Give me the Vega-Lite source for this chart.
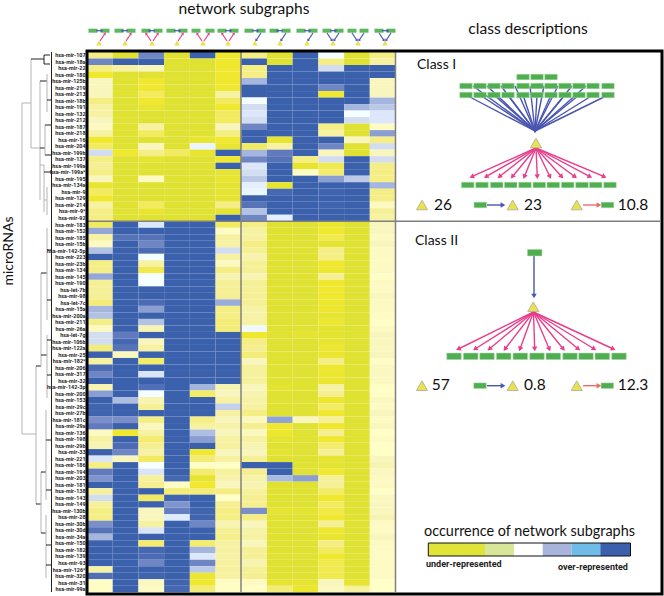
{"$schema":"https://vega.github.io/schema/vega-lite/v6.json","width":664,"height":596,"padding":0,"autosize":{"type":"none"},"background":"white","config":{"view":{"stroke":null}},
"datasets":{
"cells":[
{"mir":"hsa-mir-107","col":1,"v":-2},{"mir":"hsa-mir-107","col":2,"v":-4},{"mir":"hsa-mir-107","col":3,"v":3},{"mir":"hsa-mir-107","col":4,"v":-4},{"mir":"hsa-mir-107","col":5,"v":4},{"mir":"hsa-mir-107","col":6,"v":-3},{"mir":"hsa-mir-107","col":7,"v":-2},{"mir":"hsa-mir-107","col":8,"v":-4},{"mir":"hsa-mir-107","col":9,"v":4},{"mir":"hsa-mir-107","col":10,"v":0},{"mir":"hsa-mir-107","col":11,"v":-4},{"mir":"hsa-mir-107","col":12,"v":-2},
{"mir":"hsa-mir-18a","col":1,"v":3},{"mir":"hsa-mir-18a","col":2,"v":4},{"mir":"hsa-mir-18a","col":3,"v":4},{"mir":"hsa-mir-18a","col":4,"v":-4},{"mir":"hsa-mir-18a","col":5,"v":-4},{"mir":"hsa-mir-18a","col":6,"v":-3},{"mir":"hsa-mir-18a","col":7,"v":4},{"mir":"hsa-mir-18a","col":8,"v":-4},{"mir":"hsa-mir-18a","col":9,"v":4},{"mir":"hsa-mir-18a","col":10,"v":-2},{"mir":"hsa-mir-18a","col":11,"v":-4},{"mir":"hsa-mir-18a","col":12,"v":-1.5},
{"mir":"hsa-mir-22","col":1,"v":-2},{"mir":"hsa-mir-22","col":2,"v":-1.5},{"mir":"hsa-mir-22","col":3,"v":-1},{"mir":"hsa-mir-22","col":4,"v":-4},{"mir":"hsa-mir-22","col":5,"v":-4},{"mir":"hsa-mir-22","col":6,"v":-3},{"mir":"hsa-mir-22","col":7,"v":-2},{"mir":"hsa-mir-22","col":8,"v":4},{"mir":"hsa-mir-22","col":9,"v":4},{"mir":"hsa-mir-22","col":10,"v":1},{"mir":"hsa-mir-22","col":11,"v":4},{"mir":"hsa-mir-22","col":12,"v":4},
{"mir":"hsa-mir-180","col":1,"v":-3},{"mir":"hsa-mir-180","col":2,"v":-4},{"mir":"hsa-mir-180","col":3,"v":-4},{"mir":"hsa-mir-180","col":4,"v":-4},{"mir":"hsa-mir-180","col":5,"v":-4},{"mir":"hsa-mir-180","col":6,"v":-3},{"mir":"hsa-mir-180","col":7,"v":-2},{"mir":"hsa-mir-180","col":8,"v":4},{"mir":"hsa-mir-180","col":9,"v":4},{"mir":"hsa-mir-180","col":10,"v":4},{"mir":"hsa-mir-180","col":11,"v":4},{"mir":"hsa-mir-180","col":12,"v":4},
{"mir":"hsa-mir-125b","col":1,"v":-1},{"mir":"hsa-mir-125b","col":2,"v":-4},{"mir":"hsa-mir-125b","col":3,"v":-3},{"mir":"hsa-mir-125b","col":4,"v":-4},{"mir":"hsa-mir-125b","col":5,"v":-4},{"mir":"hsa-mir-125b","col":6,"v":-3},{"mir":"hsa-mir-125b","col":7,"v":2},{"mir":"hsa-mir-125b","col":8,"v":4},{"mir":"hsa-mir-125b","col":9,"v":4},{"mir":"hsa-mir-125b","col":10,"v":4},{"mir":"hsa-mir-125b","col":11,"v":4},{"mir":"hsa-mir-125b","col":12,"v":-1},
{"mir":"hsa-mir-219","col":1,"v":-1},{"mir":"hsa-mir-219","col":2,"v":-4},{"mir":"hsa-mir-219","col":3,"v":-3},{"mir":"hsa-mir-219","col":4,"v":-4},{"mir":"hsa-mir-219","col":5,"v":-4},{"mir":"hsa-mir-219","col":6,"v":-3},{"mir":"hsa-mir-219","col":7,"v":4},{"mir":"hsa-mir-219","col":8,"v":4},{"mir":"hsa-mir-219","col":9,"v":4},{"mir":"hsa-mir-219","col":10,"v":3},{"mir":"hsa-mir-219","col":11,"v":4},{"mir":"hsa-mir-219","col":12,"v":-1},
{"mir":"hsa-mir-213","col":1,"v":-1},{"mir":"hsa-mir-213","col":2,"v":-4},{"mir":"hsa-mir-213","col":3,"v":-2.5},{"mir":"hsa-mir-213","col":4,"v":-4},{"mir":"hsa-mir-213","col":5,"v":-4},{"mir":"hsa-mir-213","col":6,"v":-1.5},{"mir":"hsa-mir-213","col":7,"v":4},{"mir":"hsa-mir-213","col":8,"v":4},{"mir":"hsa-mir-213","col":9,"v":4},{"mir":"hsa-mir-213","col":10,"v":-3},{"mir":"hsa-mir-213","col":11,"v":4},{"mir":"hsa-mir-213","col":12,"v":-1},
{"mir":"hsa-mir-18b","col":1,"v":-2},{"mir":"hsa-mir-18b","col":2,"v":-4},{"mir":"hsa-mir-18b","col":3,"v":-3},{"mir":"hsa-mir-18b","col":4,"v":-4},{"mir":"hsa-mir-18b","col":5,"v":-4},{"mir":"hsa-mir-18b","col":6,"v":-2.5},{"mir":"hsa-mir-18b","col":7,"v":0},{"mir":"hsa-mir-18b","col":8,"v":4},{"mir":"hsa-mir-18b","col":9,"v":4},{"mir":"hsa-mir-18b","col":10,"v":4},{"mir":"hsa-mir-18b","col":11,"v":4},{"mir":"hsa-mir-18b","col":12,"v":2},
{"mir":"hsa-mir-191","col":1,"v":-1.5},{"mir":"hsa-mir-191","col":2,"v":-4},{"mir":"hsa-mir-191","col":3,"v":-3.5},{"mir":"hsa-mir-191","col":4,"v":-4},{"mir":"hsa-mir-191","col":5,"v":-4},{"mir":"hsa-mir-191","col":6,"v":-3},{"mir":"hsa-mir-191","col":7,"v":1},{"mir":"hsa-mir-191","col":8,"v":4},{"mir":"hsa-mir-191","col":9,"v":4},{"mir":"hsa-mir-191","col":10,"v":4},{"mir":"hsa-mir-191","col":11,"v":2},{"mir":"hsa-mir-191","col":12,"v":1.5},
{"mir":"hsa-mir-132","col":1,"v":-1.5},{"mir":"hsa-mir-132","col":2,"v":-4},{"mir":"hsa-mir-132","col":3,"v":-4},{"mir":"hsa-mir-132","col":4,"v":-4},{"mir":"hsa-mir-132","col":5,"v":-4},{"mir":"hsa-mir-132","col":6,"v":-2.5},{"mir":"hsa-mir-132","col":7,"v":0.7},{"mir":"hsa-mir-132","col":8,"v":4},{"mir":"hsa-mir-132","col":9,"v":4},{"mir":"hsa-mir-132","col":10,"v":4},{"mir":"hsa-mir-132","col":11,"v":0},{"mir":"hsa-mir-132","col":12,"v":0.7},
{"mir":"hsa-mir-212","col":1,"v":-1},{"mir":"hsa-mir-212","col":2,"v":-4},{"mir":"hsa-mir-212","col":3,"v":-4},{"mir":"hsa-mir-212","col":4,"v":-4},{"mir":"hsa-mir-212","col":5,"v":-4},{"mir":"hsa-mir-212","col":6,"v":-2.5},{"mir":"hsa-mir-212","col":7,"v":1},{"mir":"hsa-mir-212","col":8,"v":4},{"mir":"hsa-mir-212","col":9,"v":4},{"mir":"hsa-mir-212","col":10,"v":4},{"mir":"hsa-mir-212","col":11,"v":1},{"mir":"hsa-mir-212","col":12,"v":0.7},
{"mir":"hsa-mir-187","col":1,"v":-0.7},{"mir":"hsa-mir-187","col":2,"v":-4},{"mir":"hsa-mir-187","col":3,"v":-1.5},{"mir":"hsa-mir-187","col":4,"v":-4},{"mir":"hsa-mir-187","col":5,"v":-4},{"mir":"hsa-mir-187","col":6,"v":-1},{"mir":"hsa-mir-187","col":7,"v":3},{"mir":"hsa-mir-187","col":8,"v":4},{"mir":"hsa-mir-187","col":9,"v":4},{"mir":"hsa-mir-187","col":10,"v":-2},{"mir":"hsa-mir-187","col":11,"v":-4},{"mir":"hsa-mir-187","col":12,"v":-0.5},
{"mir":"hsa-mir-218","col":1,"v":-1.5},{"mir":"hsa-mir-218","col":2,"v":-4},{"mir":"hsa-mir-218","col":3,"v":-2.5},{"mir":"hsa-mir-218","col":4,"v":-4},{"mir":"hsa-mir-218","col":5,"v":-4},{"mir":"hsa-mir-218","col":6,"v":-2},{"mir":"hsa-mir-218","col":7,"v":4},{"mir":"hsa-mir-218","col":8,"v":4},{"mir":"hsa-mir-218","col":9,"v":4},{"mir":"hsa-mir-218","col":10,"v":-1.5},{"mir":"hsa-mir-218","col":11,"v":-4},{"mir":"hsa-mir-218","col":12,"v":2.5},
{"mir":"hsa-mir-16","col":1,"v":-3},{"mir":"hsa-mir-16","col":2,"v":-4},{"mir":"hsa-mir-16","col":3,"v":-4},{"mir":"hsa-mir-16","col":4,"v":-4},{"mir":"hsa-mir-16","col":5,"v":-3.5},{"mir":"hsa-mir-16","col":6,"v":-3},{"mir":"hsa-mir-16","col":7,"v":4},{"mir":"hsa-mir-16","col":8,"v":-3.5},{"mir":"hsa-mir-16","col":9,"v":4},{"mir":"hsa-mir-16","col":10,"v":4},{"mir":"hsa-mir-16","col":11,"v":-1},{"mir":"hsa-mir-16","col":12,"v":-2},
{"mir":"hsa-mir-204","col":1,"v":-2.5},{"mir":"hsa-mir-204","col":2,"v":-4},{"mir":"hsa-mir-204","col":3,"v":-1},{"mir":"hsa-mir-204","col":4,"v":-4},{"mir":"hsa-mir-204","col":5,"v":0.3},{"mir":"hsa-mir-204","col":6,"v":-3.5},{"mir":"hsa-mir-204","col":7,"v":-2.5},{"mir":"hsa-mir-204","col":8,"v":-1.5},{"mir":"hsa-mir-204","col":9,"v":4},{"mir":"hsa-mir-204","col":10,"v":3},{"mir":"hsa-mir-204","col":11,"v":-4},{"mir":"hsa-mir-204","col":12,"v":1},
{"mir":"hsa-mir-199b","col":1,"v":1},{"mir":"hsa-mir-199b","col":2,"v":-3},{"mir":"hsa-mir-199b","col":3,"v":-2},{"mir":"hsa-mir-199b","col":4,"v":-2.5},{"mir":"hsa-mir-199b","col":5,"v":-3.5},{"mir":"hsa-mir-199b","col":6,"v":4},{"mir":"hsa-mir-199b","col":7,"v":2},{"mir":"hsa-mir-199b","col":8,"v":3.3},{"mir":"hsa-mir-199b","col":9,"v":4},{"mir":"hsa-mir-199b","col":10,"v":-1},{"mir":"hsa-mir-199b","col":11,"v":-4},{"mir":"hsa-mir-199b","col":12,"v":-1},
{"mir":"hsa-mir-137","col":1,"v":-2},{"mir":"hsa-mir-137","col":2,"v":-4},{"mir":"hsa-mir-137","col":3,"v":-3.7},{"mir":"hsa-mir-137","col":4,"v":-4},{"mir":"hsa-mir-137","col":5,"v":-4},{"mir":"hsa-mir-137","col":6,"v":-3},{"mir":"hsa-mir-137","col":7,"v":3},{"mir":"hsa-mir-137","col":8,"v":3.5},{"mir":"hsa-mir-137","col":9,"v":-2},{"mir":"hsa-mir-137","col":10,"v":1},{"mir":"hsa-mir-137","col":11,"v":4},{"mir":"hsa-mir-137","col":12,"v":1},
{"mir":"hsa-mir-199a","col":1,"v":-1.7},{"mir":"hsa-mir-199a","col":2,"v":-4},{"mir":"hsa-mir-199a","col":3,"v":-4},{"mir":"hsa-mir-199a","col":4,"v":-4},{"mir":"hsa-mir-199a","col":5,"v":-4},{"mir":"hsa-mir-199a","col":6,"v":4},{"mir":"hsa-mir-199a","col":7,"v":0.7},{"mir":"hsa-mir-199a","col":8,"v":4},{"mir":"hsa-mir-199a","col":9,"v":-3.5},{"mir":"hsa-mir-199a","col":10,"v":-2.7},{"mir":"hsa-mir-199a","col":11,"v":4},{"mir":"hsa-mir-199a","col":12,"v":-2},
{"mir":"hsa-mir-199a*","col":1,"v":-2},{"mir":"hsa-mir-199a*","col":2,"v":-4},{"mir":"hsa-mir-199a*","col":3,"v":-4},{"mir":"hsa-mir-199a*","col":4,"v":-4},{"mir":"hsa-mir-199a*","col":5,"v":-4},{"mir":"hsa-mir-199a*","col":6,"v":-3.7},{"mir":"hsa-mir-199a*","col":7,"v":1},{"mir":"hsa-mir-199a*","col":8,"v":4},{"mir":"hsa-mir-199a*","col":9,"v":-0.5},{"mir":"hsa-mir-199a*","col":10,"v":-2.3},{"mir":"hsa-mir-199a*","col":11,"v":4},{"mir":"hsa-mir-199a*","col":12,"v":-2},
{"mir":"hsa-mir-195","col":1,"v":-1},{"mir":"hsa-mir-195","col":2,"v":-4},{"mir":"hsa-mir-195","col":3,"v":-0.5},{"mir":"hsa-mir-195","col":4,"v":-4},{"mir":"hsa-mir-195","col":5,"v":-4},{"mir":"hsa-mir-195","col":6,"v":-3.5},{"mir":"hsa-mir-195","col":7,"v":1.5},{"mir":"hsa-mir-195","col":8,"v":4},{"mir":"hsa-mir-195","col":9,"v":4},{"mir":"hsa-mir-195","col":10,"v":2.5},{"mir":"hsa-mir-195","col":11,"v":1.5},{"mir":"hsa-mir-195","col":12,"v":-2},
{"mir":"hsa-mir-134a","col":1,"v":-3.5},{"mir":"hsa-mir-134a","col":2,"v":-4},{"mir":"hsa-mir-134a","col":3,"v":-4},{"mir":"hsa-mir-134a","col":4,"v":-4},{"mir":"hsa-mir-134a","col":5,"v":-4},{"mir":"hsa-mir-134a","col":6,"v":-3.7},{"mir":"hsa-mir-134a","col":7,"v":0.5},{"mir":"hsa-mir-134a","col":8,"v":-3.5},{"mir":"hsa-mir-134a","col":9,"v":4},{"mir":"hsa-mir-134a","col":10,"v":4},{"mir":"hsa-mir-134a","col":11,"v":4},{"mir":"hsa-mir-134a","col":12,"v":2},
{"mir":"hsa-mir-9","col":1,"v":-2.5},{"mir":"hsa-mir-9","col":2,"v":-4},{"mir":"hsa-mir-9","col":3,"v":-4},{"mir":"hsa-mir-9","col":4,"v":-4},{"mir":"hsa-mir-9","col":5,"v":-4},{"mir":"hsa-mir-9","col":6,"v":-3.7},{"mir":"hsa-mir-9","col":7,"v":0.3},{"mir":"hsa-mir-9","col":8,"v":3.8},{"mir":"hsa-mir-9","col":9,"v":4},{"mir":"hsa-mir-9","col":10,"v":3.9},{"mir":"hsa-mir-9","col":11,"v":4},{"mir":"hsa-mir-9","col":12,"v":-2},
{"mir":"hsa-mir-129","col":1,"v":-3},{"mir":"hsa-mir-129","col":2,"v":-4},{"mir":"hsa-mir-129","col":3,"v":-4},{"mir":"hsa-mir-129","col":4,"v":-4},{"mir":"hsa-mir-129","col":5,"v":-4},{"mir":"hsa-mir-129","col":6,"v":-3.7},{"mir":"hsa-mir-129","col":7,"v":4},{"mir":"hsa-mir-129","col":8,"v":4},{"mir":"hsa-mir-129","col":9,"v":4},{"mir":"hsa-mir-129","col":10,"v":4},{"mir":"hsa-mir-129","col":11,"v":4},{"mir":"hsa-mir-129","col":12,"v":-2},
{"mir":"hsa-mir-214","col":1,"v":-1.5},{"mir":"hsa-mir-214","col":2,"v":-4},{"mir":"hsa-mir-214","col":3,"v":-2.5},{"mir":"hsa-mir-214","col":4,"v":-4},{"mir":"hsa-mir-214","col":5,"v":-4},{"mir":"hsa-mir-214","col":6,"v":-2},{"mir":"hsa-mir-214","col":7,"v":3.5},{"mir":"hsa-mir-214","col":8,"v":4},{"mir":"hsa-mir-214","col":9,"v":4},{"mir":"hsa-mir-214","col":10,"v":3.9},{"mir":"hsa-mir-214","col":11,"v":4},{"mir":"hsa-mir-214","col":12,"v":-0.7},
{"mir":"hsa-mir-9*","col":1,"v":-2},{"mir":"hsa-mir-9*","col":2,"v":-4},{"mir":"hsa-mir-9*","col":3,"v":-3.5},{"mir":"hsa-mir-9*","col":4,"v":-4},{"mir":"hsa-mir-9*","col":5,"v":-4},{"mir":"hsa-mir-9*","col":6,"v":-3.7},{"mir":"hsa-mir-9*","col":7,"v":1.7},{"mir":"hsa-mir-9*","col":8,"v":4},{"mir":"hsa-mir-9*","col":9,"v":4},{"mir":"hsa-mir-9*","col":10,"v":4},{"mir":"hsa-mir-9*","col":11,"v":4},{"mir":"hsa-mir-9*","col":12,"v":-1.7},
{"mir":"hsa-mir-92","col":1,"v":-2},{"mir":"hsa-mir-92","col":2,"v":-4},{"mir":"hsa-mir-92","col":3,"v":-4},{"mir":"hsa-mir-92","col":4,"v":-4},{"mir":"hsa-mir-92","col":5,"v":-4},{"mir":"hsa-mir-92","col":6,"v":4},{"mir":"hsa-mir-92","col":7,"v":3},{"mir":"hsa-mir-92","col":8,"v":0.5},{"mir":"hsa-mir-92","col":9,"v":4},{"mir":"hsa-mir-92","col":10,"v":4},{"mir":"hsa-mir-92","col":11,"v":4},{"mir":"hsa-mir-92","col":12,"v":-1.5},
{"mir":"hsa-mir-183","col":1,"v":-2.5},{"mir":"hsa-mir-183","col":2,"v":4},{"mir":"hsa-mir-183","col":3,"v":0.7},{"mir":"hsa-mir-183","col":4,"v":4},{"mir":"hsa-mir-183","col":5,"v":4},{"mir":"hsa-mir-183","col":6,"v":-2.5},{"mir":"hsa-mir-183","col":7,"v":-2},{"mir":"hsa-mir-183","col":8,"v":-4},{"mir":"hsa-mir-183","col":9,"v":-4},{"mir":"hsa-mir-183","col":10,"v":-3.3},{"mir":"hsa-mir-183","col":11,"v":-4},{"mir":"hsa-mir-183","col":12,"v":-1},
{"mir":"hsa-mir-152","col":1,"v":2.3},{"mir":"hsa-mir-152","col":2,"v":4},{"mir":"hsa-mir-152","col":3,"v":4},{"mir":"hsa-mir-152","col":4,"v":4},{"mir":"hsa-mir-152","col":5,"v":4},{"mir":"hsa-mir-152","col":6,"v":-0.5},{"mir":"hsa-mir-152","col":7,"v":-1.5},{"mir":"hsa-mir-152","col":8,"v":-4},{"mir":"hsa-mir-152","col":9,"v":-4},{"mir":"hsa-mir-152","col":10,"v":-3},{"mir":"hsa-mir-152","col":11,"v":-4},{"mir":"hsa-mir-152","col":12,"v":-1},
{"mir":"hsa-mir-185","col":1,"v":-1.5},{"mir":"hsa-mir-185","col":2,"v":3.5},{"mir":"hsa-mir-185","col":3,"v":3.5},{"mir":"hsa-mir-185","col":4,"v":4},{"mir":"hsa-mir-185","col":5,"v":4},{"mir":"hsa-mir-185","col":6,"v":-1.5},{"mir":"hsa-mir-185","col":7,"v":-1.5},{"mir":"hsa-mir-185","col":8,"v":-4},{"mir":"hsa-mir-185","col":9,"v":-4},{"mir":"hsa-mir-185","col":10,"v":-2.7},{"mir":"hsa-mir-185","col":11,"v":-4},{"mir":"hsa-mir-185","col":12,"v":-0.7},
{"mir":"hsa-mir-15b","col":1,"v":-0.7},{"mir":"hsa-mir-15b","col":2,"v":4},{"mir":"hsa-mir-15b","col":3,"v":3},{"mir":"hsa-mir-15b","col":4,"v":4},{"mir":"hsa-mir-15b","col":5,"v":4},{"mir":"hsa-mir-15b","col":6,"v":-1.5},{"mir":"hsa-mir-15b","col":7,"v":-2},{"mir":"hsa-mir-15b","col":8,"v":-4},{"mir":"hsa-mir-15b","col":9,"v":-4},{"mir":"hsa-mir-15b","col":10,"v":-3.7},{"mir":"hsa-mir-15b","col":11,"v":-4},{"mir":"hsa-mir-15b","col":12,"v":-1},
{"mir":"hsa-mir-142-5p","col":1,"v":1.7},{"mir":"hsa-mir-142-5p","col":2,"v":4},{"mir":"hsa-mir-142-5p","col":3,"v":3.7},{"mir":"hsa-mir-142-5p","col":4,"v":4},{"mir":"hsa-mir-142-5p","col":5,"v":4},{"mir":"hsa-mir-142-5p","col":6,"v":1},{"mir":"hsa-mir-142-5p","col":7,"v":-1.7},{"mir":"hsa-mir-142-5p","col":8,"v":-4},{"mir":"hsa-mir-142-5p","col":9,"v":-4},{"mir":"hsa-mir-142-5p","col":10,"v":-2},{"mir":"hsa-mir-142-5p","col":11,"v":-4},{"mir":"hsa-mir-142-5p","col":12,"v":-0.7},
{"mir":"hsa-mir-223","col":1,"v":4},{"mir":"hsa-mir-223","col":2,"v":4},{"mir":"hsa-mir-223","col":3,"v":0},{"mir":"hsa-mir-223","col":4,"v":4},{"mir":"hsa-mir-223","col":5,"v":4},{"mir":"hsa-mir-223","col":6,"v":-1.5},{"mir":"hsa-mir-223","col":7,"v":-1.3},{"mir":"hsa-mir-223","col":8,"v":-4},{"mir":"hsa-mir-223","col":9,"v":-4},{"mir":"hsa-mir-223","col":10,"v":-2},{"mir":"hsa-mir-223","col":11,"v":-4},{"mir":"hsa-mir-223","col":12,"v":-0.7},
{"mir":"hsa-mir-23b","col":1,"v":-2},{"mir":"hsa-mir-23b","col":2,"v":4},{"mir":"hsa-mir-23b","col":3,"v":-1.5},{"mir":"hsa-mir-23b","col":4,"v":4},{"mir":"hsa-mir-23b","col":5,"v":4},{"mir":"hsa-mir-23b","col":6,"v":-0.7},{"mir":"hsa-mir-23b","col":7,"v":-1.7},{"mir":"hsa-mir-23b","col":8,"v":-4},{"mir":"hsa-mir-23b","col":9,"v":-4},{"mir":"hsa-mir-23b","col":10,"v":-3},{"mir":"hsa-mir-23b","col":11,"v":-4},{"mir":"hsa-mir-23b","col":12,"v":-0.7},
{"mir":"hsa-mir-134","col":1,"v":-2},{"mir":"hsa-mir-134","col":2,"v":4},{"mir":"hsa-mir-134","col":3,"v":-2.7},{"mir":"hsa-mir-134","col":4,"v":4},{"mir":"hsa-mir-134","col":5,"v":4},{"mir":"hsa-mir-134","col":6,"v":-2},{"mir":"hsa-mir-134","col":7,"v":-1.7},{"mir":"hsa-mir-134","col":8,"v":-4},{"mir":"hsa-mir-134","col":9,"v":-4},{"mir":"hsa-mir-134","col":10,"v":-3.2},{"mir":"hsa-mir-134","col":11,"v":-4},{"mir":"hsa-mir-134","col":12,"v":-0.7},
{"mir":"hsa-mir-145","col":1,"v":2.3},{"mir":"hsa-mir-145","col":2,"v":4},{"mir":"hsa-mir-145","col":3,"v":0},{"mir":"hsa-mir-145","col":4,"v":4},{"mir":"hsa-mir-145","col":5,"v":4},{"mir":"hsa-mir-145","col":6,"v":-1.2},{"mir":"hsa-mir-145","col":7,"v":-1.2},{"mir":"hsa-mir-145","col":8,"v":-4},{"mir":"hsa-mir-145","col":9,"v":-4},{"mir":"hsa-mir-145","col":10,"v":-1.7},{"mir":"hsa-mir-145","col":11,"v":-4},{"mir":"hsa-mir-145","col":12,"v":-0.3},
{"mir":"hsa-mir-190","col":1,"v":-1.7},{"mir":"hsa-mir-190","col":2,"v":4},{"mir":"hsa-mir-190","col":3,"v":0},{"mir":"hsa-mir-190","col":4,"v":4},{"mir":"hsa-mir-190","col":5,"v":4},{"mir":"hsa-mir-190","col":6,"v":-1.7},{"mir":"hsa-mir-190","col":7,"v":-1.7},{"mir":"hsa-mir-190","col":8,"v":-4},{"mir":"hsa-mir-190","col":9,"v":-4},{"mir":"hsa-mir-190","col":10,"v":-3},{"mir":"hsa-mir-190","col":11,"v":-4},{"mir":"hsa-mir-190","col":12,"v":-0.7},
{"mir":"hsa-let-7b","col":1,"v":-1.7},{"mir":"hsa-let-7b","col":2,"v":4},{"mir":"hsa-let-7b","col":3,"v":4},{"mir":"hsa-let-7b","col":4,"v":4},{"mir":"hsa-let-7b","col":5,"v":4},{"mir":"hsa-let-7b","col":6,"v":-1.7},{"mir":"hsa-let-7b","col":7,"v":-1.7},{"mir":"hsa-let-7b","col":8,"v":-4},{"mir":"hsa-let-7b","col":9,"v":-4},{"mir":"hsa-let-7b","col":10,"v":-3},{"mir":"hsa-let-7b","col":11,"v":-4},{"mir":"hsa-let-7b","col":12,"v":-0.7},
{"mir":"hsa-mir-98","col":1,"v":-1.7},{"mir":"hsa-mir-98","col":2,"v":4},{"mir":"hsa-mir-98","col":3,"v":4},{"mir":"hsa-mir-98","col":4,"v":4},{"mir":"hsa-mir-98","col":5,"v":4},{"mir":"hsa-mir-98","col":6,"v":-1.7},{"mir":"hsa-mir-98","col":7,"v":-1.7},{"mir":"hsa-mir-98","col":8,"v":-4},{"mir":"hsa-mir-98","col":9,"v":-4},{"mir":"hsa-mir-98","col":10,"v":-3},{"mir":"hsa-mir-98","col":11,"v":-4},{"mir":"hsa-mir-98","col":12,"v":-0.9},
{"mir":"hsa-let-7c","col":1,"v":-2.2},{"mir":"hsa-let-7c","col":2,"v":4},{"mir":"hsa-let-7c","col":3,"v":3.7},{"mir":"hsa-let-7c","col":4,"v":4},{"mir":"hsa-let-7c","col":5,"v":4},{"mir":"hsa-let-7c","col":6,"v":2.2},{"mir":"hsa-let-7c","col":7,"v":-1.7},{"mir":"hsa-let-7c","col":8,"v":-4},{"mir":"hsa-let-7c","col":9,"v":-4},{"mir":"hsa-let-7c","col":10,"v":-3.2},{"mir":"hsa-let-7c","col":11,"v":-4},{"mir":"hsa-let-7c","col":12,"v":-0.7},
{"mir":"hsa-mir-15a","col":1,"v":2},{"mir":"hsa-mir-15a","col":2,"v":4},{"mir":"hsa-mir-15a","col":3,"v":2.5},{"mir":"hsa-mir-15a","col":4,"v":4},{"mir":"hsa-mir-15a","col":5,"v":4},{"mir":"hsa-mir-15a","col":6,"v":-2},{"mir":"hsa-mir-15a","col":7,"v":-1.4},{"mir":"hsa-mir-15a","col":8,"v":-4},{"mir":"hsa-mir-15a","col":9,"v":-4},{"mir":"hsa-mir-15a","col":10,"v":-3.2},{"mir":"hsa-mir-15a","col":11,"v":-4},{"mir":"hsa-mir-15a","col":12,"v":-0.7},
{"mir":"hsa-mir-200a","col":1,"v":1.7},{"mir":"hsa-mir-200a","col":2,"v":4},{"mir":"hsa-mir-200a","col":3,"v":4},{"mir":"hsa-mir-200a","col":4,"v":4},{"mir":"hsa-mir-200a","col":5,"v":4},{"mir":"hsa-mir-200a","col":6,"v":-2},{"mir":"hsa-mir-200a","col":7,"v":-1.4},{"mir":"hsa-mir-200a","col":8,"v":-4},{"mir":"hsa-mir-200a","col":9,"v":-4},{"mir":"hsa-mir-200a","col":10,"v":-3.7},{"mir":"hsa-mir-200a","col":11,"v":-4},{"mir":"hsa-mir-200a","col":12,"v":-0.5},
{"mir":"hsa-mir-211","col":1,"v":-2},{"mir":"hsa-mir-211","col":2,"v":4},{"mir":"hsa-mir-211","col":3,"v":1.7},{"mir":"hsa-mir-211","col":4,"v":4},{"mir":"hsa-mir-211","col":5,"v":4},{"mir":"hsa-mir-211","col":6,"v":-2.2},{"mir":"hsa-mir-211","col":7,"v":-1.5},{"mir":"hsa-mir-211","col":8,"v":-4},{"mir":"hsa-mir-211","col":9,"v":-4},{"mir":"hsa-mir-211","col":10,"v":-3.2},{"mir":"hsa-mir-211","col":11,"v":-4},{"mir":"hsa-mir-211","col":12,"v":-0.3},
{"mir":"hsa-mir-26a","col":1,"v":-0.7},{"mir":"hsa-mir-26a","col":2,"v":4},{"mir":"hsa-mir-26a","col":3,"v":-1.2},{"mir":"hsa-mir-26a","col":4,"v":4},{"mir":"hsa-mir-26a","col":5,"v":4},{"mir":"hsa-mir-26a","col":6,"v":-2.2},{"mir":"hsa-mir-26a","col":7,"v":0.2},{"mir":"hsa-mir-26a","col":8,"v":-4},{"mir":"hsa-mir-26a","col":9,"v":-4},{"mir":"hsa-mir-26a","col":10,"v":-3.8},{"mir":"hsa-mir-26a","col":11,"v":-4},{"mir":"hsa-mir-26a","col":12,"v":-0.7},
{"mir":"hsa-let-7g","col":1,"v":1},{"mir":"hsa-let-7g","col":2,"v":3.3},{"mir":"hsa-let-7g","col":3,"v":4},{"mir":"hsa-let-7g","col":4,"v":4},{"mir":"hsa-let-7g","col":5,"v":4},{"mir":"hsa-let-7g","col":6,"v":4},{"mir":"hsa-let-7g","col":7,"v":-3},{"mir":"hsa-let-7g","col":8,"v":-4},{"mir":"hsa-let-7g","col":9,"v":-3.7},{"mir":"hsa-let-7g","col":10,"v":-3.8},{"mir":"hsa-let-7g","col":11,"v":-4},{"mir":"hsa-let-7g","col":12,"v":-1},
{"mir":"hsa-mir-106b","col":1,"v":1},{"mir":"hsa-mir-106b","col":2,"v":3.8},{"mir":"hsa-mir-106b","col":3,"v":-1},{"mir":"hsa-mir-106b","col":4,"v":4},{"mir":"hsa-mir-106b","col":5,"v":4},{"mir":"hsa-mir-106b","col":6,"v":4},{"mir":"hsa-mir-106b","col":7,"v":-2},{"mir":"hsa-mir-106b","col":8,"v":-4},{"mir":"hsa-mir-106b","col":9,"v":-4},{"mir":"hsa-mir-106b","col":10,"v":-3.5},{"mir":"hsa-mir-106b","col":11,"v":-4},{"mir":"hsa-mir-106b","col":12,"v":-0.9},
{"mir":"hsa-mir-122a","col":1,"v":-2.2},{"mir":"hsa-mir-122a","col":2,"v":3.5},{"mir":"hsa-mir-122a","col":3,"v":-1.5},{"mir":"hsa-mir-122a","col":4,"v":4},{"mir":"hsa-mir-122a","col":5,"v":4},{"mir":"hsa-mir-122a","col":6,"v":4},{"mir":"hsa-mir-122a","col":7,"v":-1.8},{"mir":"hsa-mir-122a","col":8,"v":-4},{"mir":"hsa-mir-122a","col":9,"v":-4},{"mir":"hsa-mir-122a","col":10,"v":-3.2},{"mir":"hsa-mir-122a","col":11,"v":-4},{"mir":"hsa-mir-122a","col":12,"v":-0.8},
{"mir":"hsa-mir-25","col":1,"v":4},{"mir":"hsa-mir-25","col":2,"v":-0.8},{"mir":"hsa-mir-25","col":3,"v":4},{"mir":"hsa-mir-25","col":4,"v":4},{"mir":"hsa-mir-25","col":5,"v":4},{"mir":"hsa-mir-25","col":6,"v":4},{"mir":"hsa-mir-25","col":7,"v":-2.2},{"mir":"hsa-mir-25","col":8,"v":-4},{"mir":"hsa-mir-25","col":9,"v":-4},{"mir":"hsa-mir-25","col":10,"v":-3.4},{"mir":"hsa-mir-25","col":11,"v":-4},{"mir":"hsa-mir-25","col":12,"v":-1},
{"mir":"hsa-mir-182*","col":1,"v":-1.5},{"mir":"hsa-mir-182*","col":2,"v":4},{"mir":"hsa-mir-182*","col":3,"v":-2.4},{"mir":"hsa-mir-182*","col":4,"v":4},{"mir":"hsa-mir-182*","col":5,"v":4},{"mir":"hsa-mir-182*","col":6,"v":4},{"mir":"hsa-mir-182*","col":7,"v":-1},{"mir":"hsa-mir-182*","col":8,"v":-4},{"mir":"hsa-mir-182*","col":9,"v":-4},{"mir":"hsa-mir-182*","col":10,"v":-2},{"mir":"hsa-mir-182*","col":11,"v":-4},{"mir":"hsa-mir-182*","col":12,"v":-0.4},
{"mir":"hsa-mir-206","col":1,"v":3.7},{"mir":"hsa-mir-206","col":2,"v":4},{"mir":"hsa-mir-206","col":3,"v":4},{"mir":"hsa-mir-206","col":4,"v":4},{"mir":"hsa-mir-206","col":5,"v":4},{"mir":"hsa-mir-206","col":6,"v":4},{"mir":"hsa-mir-206","col":7,"v":-1.6},{"mir":"hsa-mir-206","col":8,"v":-4},{"mir":"hsa-mir-206","col":9,"v":-4},{"mir":"hsa-mir-206","col":10,"v":-3.2},{"mir":"hsa-mir-206","col":11,"v":-4},{"mir":"hsa-mir-206","col":12,"v":-0.8},
{"mir":"hsa-mir-317","col":1,"v":3},{"mir":"hsa-mir-317","col":2,"v":4},{"mir":"hsa-mir-317","col":3,"v":0.8},{"mir":"hsa-mir-317","col":4,"v":4},{"mir":"hsa-mir-317","col":5,"v":4},{"mir":"hsa-mir-317","col":6,"v":4},{"mir":"hsa-mir-317","col":7,"v":-1.6},{"mir":"hsa-mir-317","col":8,"v":-4},{"mir":"hsa-mir-317","col":9,"v":-4},{"mir":"hsa-mir-317","col":10,"v":-3.3},{"mir":"hsa-mir-317","col":11,"v":-4},{"mir":"hsa-mir-317","col":12,"v":-0.8},
{"mir":"hsa-mir-32","col":1,"v":4},{"mir":"hsa-mir-32","col":2,"v":4},{"mir":"hsa-mir-32","col":3,"v":4},{"mir":"hsa-mir-32","col":4,"v":4},{"mir":"hsa-mir-32","col":5,"v":4},{"mir":"hsa-mir-32","col":6,"v":4},{"mir":"hsa-mir-32","col":7,"v":-1.6},{"mir":"hsa-mir-32","col":8,"v":-4},{"mir":"hsa-mir-32","col":9,"v":-4},{"mir":"hsa-mir-32","col":10,"v":-3.4},{"mir":"hsa-mir-32","col":11,"v":-4},{"mir":"hsa-mir-32","col":12,"v":-0.8},
{"mir":"hsa-mir-142-3p","col":1,"v":-1.2},{"mir":"hsa-mir-142-3p","col":2,"v":4},{"mir":"hsa-mir-142-3p","col":3,"v":3.6},{"mir":"hsa-mir-142-3p","col":4,"v":4},{"mir":"hsa-mir-142-3p","col":5,"v":2},{"mir":"hsa-mir-142-3p","col":6,"v":-1.2},{"mir":"hsa-mir-142-3p","col":7,"v":-1},{"mir":"hsa-mir-142-3p","col":8,"v":-3.8},{"mir":"hsa-mir-142-3p","col":9,"v":-4},{"mir":"hsa-mir-142-3p","col":10,"v":-1.5},{"mir":"hsa-mir-142-3p","col":11,"v":-4},{"mir":"hsa-mir-142-3p","col":12,"v":-0.3},
{"mir":"hsa-mir-200","col":1,"v":2.5},{"mir":"hsa-mir-200","col":2,"v":4},{"mir":"hsa-mir-200","col":3,"v":0},{"mir":"hsa-mir-200","col":4,"v":4},{"mir":"hsa-mir-200","col":5,"v":-2.4},{"mir":"hsa-mir-200","col":6,"v":-1},{"mir":"hsa-mir-200","col":7,"v":-1.2},{"mir":"hsa-mir-200","col":8,"v":-4},{"mir":"hsa-mir-200","col":9,"v":-4},{"mir":"hsa-mir-200","col":10,"v":-1.8},{"mir":"hsa-mir-200","col":11,"v":-4},{"mir":"hsa-mir-200","col":12,"v":-0.3},
{"mir":"hsa-mir-153","col":1,"v":4},{"mir":"hsa-mir-153","col":2,"v":1.8},{"mir":"hsa-mir-153","col":3,"v":-1.2},{"mir":"hsa-mir-153","col":4,"v":4},{"mir":"hsa-mir-153","col":5,"v":4},{"mir":"hsa-mir-153","col":6,"v":-1.5},{"mir":"hsa-mir-153","col":7,"v":-1.4},{"mir":"hsa-mir-153","col":8,"v":-4},{"mir":"hsa-mir-153","col":9,"v":-4},{"mir":"hsa-mir-153","col":10,"v":-3.2},{"mir":"hsa-mir-153","col":11,"v":-4},{"mir":"hsa-mir-153","col":12,"v":-0.8},
{"mir":"hsa-mir-29c","col":1,"v":3.9},{"mir":"hsa-mir-29c","col":2,"v":4},{"mir":"hsa-mir-29c","col":3,"v":-1.7},{"mir":"hsa-mir-29c","col":4,"v":4},{"mir":"hsa-mir-29c","col":5,"v":4},{"mir":"hsa-mir-29c","col":6,"v":1.3},{"mir":"hsa-mir-29c","col":7,"v":-1.5},{"mir":"hsa-mir-29c","col":8,"v":-4},{"mir":"hsa-mir-29c","col":9,"v":-4},{"mir":"hsa-mir-29c","col":10,"v":-2.4},{"mir":"hsa-mir-29c","col":11,"v":-4},{"mir":"hsa-mir-29c","col":12,"v":-0.6},
{"mir":"hsa-mir-27b","col":1,"v":3.9},{"mir":"hsa-mir-27b","col":2,"v":4},{"mir":"hsa-mir-27b","col":3,"v":4},{"mir":"hsa-mir-27b","col":4,"v":4},{"mir":"hsa-mir-27b","col":5,"v":4},{"mir":"hsa-mir-27b","col":6,"v":-1.5},{"mir":"hsa-mir-27b","col":7,"v":-2},{"mir":"hsa-mir-27b","col":8,"v":-4},{"mir":"hsa-mir-27b","col":9,"v":-4},{"mir":"hsa-mir-27b","col":10,"v":-3},{"mir":"hsa-mir-27b","col":11,"v":-4},{"mir":"hsa-mir-27b","col":12,"v":-1},
{"mir":"hsa-mir-181c","col":1,"v":2.8},{"mir":"hsa-mir-181c","col":2,"v":2.8},{"mir":"hsa-mir-181c","col":3,"v":-2},{"mir":"hsa-mir-181c","col":4,"v":4},{"mir":"hsa-mir-181c","col":5,"v":-2},{"mir":"hsa-mir-181c","col":6,"v":-1},{"mir":"hsa-mir-181c","col":7,"v":-0.8},{"mir":"hsa-mir-181c","col":8,"v":2.4},{"mir":"hsa-mir-181c","col":9,"v":-0.9},{"mir":"hsa-mir-181c","col":10,"v":-1.7},{"mir":"hsa-mir-181c","col":11,"v":-4},{"mir":"hsa-mir-181c","col":12,"v":-0.6},
{"mir":"hsa-mir-29a","col":1,"v":3.3},{"mir":"hsa-mir-29a","col":2,"v":4},{"mir":"hsa-mir-29a","col":3,"v":-0.8},{"mir":"hsa-mir-29a","col":4,"v":4},{"mir":"hsa-mir-29a","col":5,"v":-1.5},{"mir":"hsa-mir-29a","col":6,"v":-1.4},{"mir":"hsa-mir-29a","col":7,"v":-1.8},{"mir":"hsa-mir-29a","col":8,"v":-3},{"mir":"hsa-mir-29a","col":9,"v":-4},{"mir":"hsa-mir-29a","col":10,"v":-3},{"mir":"hsa-mir-29a","col":11,"v":-4},{"mir":"hsa-mir-29a","col":12,"v":-0.9},
{"mir":"hsa-mir-136","col":1,"v":-0.7},{"mir":"hsa-mir-136","col":2,"v":-3},{"mir":"hsa-mir-136","col":3,"v":-1.5},{"mir":"hsa-mir-136","col":4,"v":4},{"mir":"hsa-mir-136","col":5,"v":1.8},{"mir":"hsa-mir-136","col":6,"v":-1},{"mir":"hsa-mir-136","col":7,"v":-0.8},{"mir":"hsa-mir-136","col":8,"v":-3.2},{"mir":"hsa-mir-136","col":9,"v":-4},{"mir":"hsa-mir-136","col":10,"v":-1.8},{"mir":"hsa-mir-136","col":11,"v":-4},{"mir":"hsa-mir-136","col":12,"v":-0.3},
{"mir":"hsa-mir-198","col":1,"v":-1.5},{"mir":"hsa-mir-198","col":2,"v":4},{"mir":"hsa-mir-198","col":3,"v":-2.3},{"mir":"hsa-mir-198","col":4,"v":4},{"mir":"hsa-mir-198","col":5,"v":2.5},{"mir":"hsa-mir-198","col":6,"v":-1.5},{"mir":"hsa-mir-198","col":7,"v":-1.5},{"mir":"hsa-mir-198","col":8,"v":-3.9},{"mir":"hsa-mir-198","col":9,"v":-4},{"mir":"hsa-mir-198","col":10,"v":-3},{"mir":"hsa-mir-198","col":11,"v":-4},{"mir":"hsa-mir-198","col":12,"v":-0.6},
{"mir":"hsa-mir-29b","col":1,"v":-1.2},{"mir":"hsa-mir-29b","col":2,"v":3.7},{"mir":"hsa-mir-29b","col":3,"v":-1.8},{"mir":"hsa-mir-29b","col":4,"v":4},{"mir":"hsa-mir-29b","col":5,"v":4},{"mir":"hsa-mir-29b","col":6,"v":-1.6},{"mir":"hsa-mir-29b","col":7,"v":-1.2},{"mir":"hsa-mir-29b","col":8,"v":-4},{"mir":"hsa-mir-29b","col":9,"v":-4},{"mir":"hsa-mir-29b","col":10,"v":-2.3},{"mir":"hsa-mir-29b","col":11,"v":-4},{"mir":"hsa-mir-29b","col":12,"v":-0.2},
{"mir":"hsa-mir-33","col":1,"v":4},{"mir":"hsa-mir-33","col":2,"v":3},{"mir":"hsa-mir-33","col":3,"v":-1.4},{"mir":"hsa-mir-33","col":4,"v":4},{"mir":"hsa-mir-33","col":5,"v":-3},{"mir":"hsa-mir-33","col":6,"v":-1},{"mir":"hsa-mir-33","col":7,"v":-1},{"mir":"hsa-mir-33","col":8,"v":-3.8},{"mir":"hsa-mir-33","col":9,"v":-4},{"mir":"hsa-mir-33","col":10,"v":-1.7},{"mir":"hsa-mir-33","col":11,"v":-4},{"mir":"hsa-mir-33","col":12,"v":-0.3},
{"mir":"hsa-mir-221","col":1,"v":0.8},{"mir":"hsa-mir-221","col":2,"v":-1},{"mir":"hsa-mir-221","col":3,"v":-2.5},{"mir":"hsa-mir-221","col":4,"v":4},{"mir":"hsa-mir-221","col":5,"v":-2.2},{"mir":"hsa-mir-221","col":6,"v":-1.5},{"mir":"hsa-mir-221","col":7,"v":-1.7},{"mir":"hsa-mir-221","col":8,"v":-4},{"mir":"hsa-mir-221","col":9,"v":-4},{"mir":"hsa-mir-221","col":10,"v":-3.7},{"mir":"hsa-mir-221","col":11,"v":-4},{"mir":"hsa-mir-221","col":12,"v":-1},
{"mir":"hsa-mir-186","col":1,"v":-2},{"mir":"hsa-mir-186","col":2,"v":4},{"mir":"hsa-mir-186","col":3,"v":0},{"mir":"hsa-mir-186","col":4,"v":4},{"mir":"hsa-mir-186","col":5,"v":-0.3},{"mir":"hsa-mir-186","col":6,"v":-0.3},{"mir":"hsa-mir-186","col":7,"v":4},{"mir":"hsa-mir-186","col":8,"v":4},{"mir":"hsa-mir-186","col":9,"v":-4},{"mir":"hsa-mir-186","col":10,"v":-3.8},{"mir":"hsa-mir-186","col":11,"v":-4},{"mir":"hsa-mir-186","col":12,"v":-1.2},
{"mir":"hsa-mir-194","col":1,"v":3.3},{"mir":"hsa-mir-194","col":2,"v":4},{"mir":"hsa-mir-194","col":3,"v":0.8},{"mir":"hsa-mir-194","col":4,"v":4},{"mir":"hsa-mir-194","col":5,"v":-2.3},{"mir":"hsa-mir-194","col":6,"v":-1.6},{"mir":"hsa-mir-194","col":7,"v":-1.8},{"mir":"hsa-mir-194","col":8,"v":4},{"mir":"hsa-mir-194","col":9,"v":-4},{"mir":"hsa-mir-194","col":10,"v":-3},{"mir":"hsa-mir-194","col":11,"v":-4},{"mir":"hsa-mir-194","col":12,"v":-0.8},
{"mir":"hsa-mir-203","col":1,"v":2.7},{"mir":"hsa-mir-203","col":2,"v":4},{"mir":"hsa-mir-203","col":3,"v":-1.6},{"mir":"hsa-mir-203","col":4,"v":3.8},{"mir":"hsa-mir-203","col":5,"v":-3.6},{"mir":"hsa-mir-203","col":6,"v":-1.3},{"mir":"hsa-mir-203","col":7,"v":-1.4},{"mir":"hsa-mir-203","col":8,"v":1.9},{"mir":"hsa-mir-203","col":9,"v":2.5},{"mir":"hsa-mir-203","col":10,"v":-1.7},{"mir":"hsa-mir-203","col":11,"v":-4},{"mir":"hsa-mir-203","col":12,"v":-0.7},
{"mir":"hsa-mir-181","col":1,"v":4},{"mir":"hsa-mir-181","col":2,"v":4},{"mir":"hsa-mir-181","col":3,"v":-1.8},{"mir":"hsa-mir-181","col":4,"v":-0.4},{"mir":"hsa-mir-181","col":5,"v":-3},{"mir":"hsa-mir-181","col":6,"v":-1},{"mir":"hsa-mir-181","col":7,"v":-1.2},{"mir":"hsa-mir-181","col":8,"v":-4},{"mir":"hsa-mir-181","col":9,"v":-4},{"mir":"hsa-mir-181","col":10,"v":-1.7},{"mir":"hsa-mir-181","col":11,"v":-4},{"mir":"hsa-mir-181","col":12,"v":-0.7},
{"mir":"hsa-mir-138","col":1,"v":-1.6},{"mir":"hsa-mir-138","col":2,"v":4},{"mir":"hsa-mir-138","col":3,"v":4},{"mir":"hsa-mir-138","col":4,"v":-2.2},{"mir":"hsa-mir-138","col":5,"v":-2.2},{"mir":"hsa-mir-138","col":6,"v":-2},{"mir":"hsa-mir-138","col":7,"v":-1.6},{"mir":"hsa-mir-138","col":8,"v":-4},{"mir":"hsa-mir-138","col":9,"v":-4},{"mir":"hsa-mir-138","col":10,"v":-2.4},{"mir":"hsa-mir-138","col":11,"v":-4},{"mir":"hsa-mir-138","col":12,"v":-0.3},
{"mir":"hsa-mir-143","col":1,"v":1},{"mir":"hsa-mir-143","col":2,"v":4},{"mir":"hsa-mir-143","col":3,"v":-2.5},{"mir":"hsa-mir-143","col":4,"v":3.9},{"mir":"hsa-mir-143","col":5,"v":4},{"mir":"hsa-mir-143","col":6,"v":-0.2},{"mir":"hsa-mir-143","col":7,"v":-1.8},{"mir":"hsa-mir-143","col":8,"v":-4},{"mir":"hsa-mir-143","col":9,"v":-4},{"mir":"hsa-mir-143","col":10,"v":-3},{"mir":"hsa-mir-143","col":11,"v":-4},{"mir":"hsa-mir-143","col":12,"v":-0.8},
{"mir":"hsa-mir-149","col":1,"v":-1.6},{"mir":"hsa-mir-149","col":2,"v":4},{"mir":"hsa-mir-149","col":3,"v":4},{"mir":"hsa-mir-149","col":4,"v":2.7},{"mir":"hsa-mir-149","col":5,"v":4},{"mir":"hsa-mir-149","col":6,"v":-1.8},{"mir":"hsa-mir-149","col":7,"v":-1.8},{"mir":"hsa-mir-149","col":8,"v":-4},{"mir":"hsa-mir-149","col":9,"v":-4},{"mir":"hsa-mir-149","col":10,"v":-2.5},{"mir":"hsa-mir-149","col":11,"v":-4},{"mir":"hsa-mir-149","col":12,"v":-0.9},
{"mir":"hsa-mir-130b","col":1,"v":-2},{"mir":"hsa-mir-130b","col":2,"v":4},{"mir":"hsa-mir-130b","col":3,"v":-1},{"mir":"hsa-mir-130b","col":4,"v":3.2},{"mir":"hsa-mir-130b","col":5,"v":3.9},{"mir":"hsa-mir-130b","col":6,"v":-2},{"mir":"hsa-mir-130b","col":7,"v":2.8},{"mir":"hsa-mir-130b","col":8,"v":-3.7},{"mir":"hsa-mir-130b","col":9,"v":-3.8},{"mir":"hsa-mir-130b","col":10,"v":-2.8},{"mir":"hsa-mir-130b","col":11,"v":-4},{"mir":"hsa-mir-130b","col":12,"v":-0.9},
{"mir":"hsa-mir-28","col":1,"v":-2},{"mir":"hsa-mir-28","col":2,"v":4},{"mir":"hsa-mir-28","col":3,"v":-1},{"mir":"hsa-mir-28","col":4,"v":0.6},{"mir":"hsa-mir-28","col":5,"v":3.9},{"mir":"hsa-mir-28","col":6,"v":-2},{"mir":"hsa-mir-28","col":7,"v":-2},{"mir":"hsa-mir-28","col":8,"v":-4},{"mir":"hsa-mir-28","col":9,"v":-4},{"mir":"hsa-mir-28","col":10,"v":-3},{"mir":"hsa-mir-28","col":11,"v":-4},{"mir":"hsa-mir-28","col":12,"v":-1.2},
{"mir":"hsa-mir-30b","col":1,"v":2.8},{"mir":"hsa-mir-30b","col":2,"v":4},{"mir":"hsa-mir-30b","col":3,"v":-1.6},{"mir":"hsa-mir-30b","col":4,"v":4},{"mir":"hsa-mir-30b","col":5,"v":3},{"mir":"hsa-mir-30b","col":6,"v":-1.2},{"mir":"hsa-mir-30b","col":7,"v":-1},{"mir":"hsa-mir-30b","col":8,"v":-4},{"mir":"hsa-mir-30b","col":9,"v":-4},{"mir":"hsa-mir-30b","col":10,"v":-1.7},{"mir":"hsa-mir-30b","col":11,"v":-4},{"mir":"hsa-mir-30b","col":12,"v":-0.6},
{"mir":"hsa-mir-30d","col":1,"v":3.5},{"mir":"hsa-mir-30d","col":2,"v":4},{"mir":"hsa-mir-30d","col":3,"v":0.8},{"mir":"hsa-mir-30d","col":4,"v":4},{"mir":"hsa-mir-30d","col":5,"v":4},{"mir":"hsa-mir-30d","col":6,"v":-1.7},{"mir":"hsa-mir-30d","col":7,"v":-1.4},{"mir":"hsa-mir-30d","col":8,"v":-4},{"mir":"hsa-mir-30d","col":9,"v":-4},{"mir":"hsa-mir-30d","col":10,"v":-3.2},{"mir":"hsa-mir-30d","col":11,"v":-4},{"mir":"hsa-mir-30d","col":12,"v":-0.6},
{"mir":"hsa-mir-34a","col":1,"v":2},{"mir":"hsa-mir-34a","col":2,"v":4},{"mir":"hsa-mir-34a","col":3,"v":4},{"mir":"hsa-mir-34a","col":4,"v":4},{"mir":"hsa-mir-34a","col":5,"v":4},{"mir":"hsa-mir-34a","col":6,"v":-1.9},{"mir":"hsa-mir-34a","col":7,"v":-1.5},{"mir":"hsa-mir-34a","col":8,"v":-4},{"mir":"hsa-mir-34a","col":9,"v":-4},{"mir":"hsa-mir-34a","col":10,"v":-3.4},{"mir":"hsa-mir-34a","col":11,"v":-4},{"mir":"hsa-mir-34a","col":12,"v":-1},
{"mir":"hsa-mir-150","col":1,"v":4},{"mir":"hsa-mir-150","col":2,"v":4},{"mir":"hsa-mir-150","col":3,"v":-2.3},{"mir":"hsa-mir-150","col":4,"v":4},{"mir":"hsa-mir-150","col":5,"v":-2.3},{"mir":"hsa-mir-150","col":6,"v":-1.5},{"mir":"hsa-mir-150","col":7,"v":-1},{"mir":"hsa-mir-150","col":8,"v":-4},{"mir":"hsa-mir-150","col":9,"v":-4},{"mir":"hsa-mir-150","col":10,"v":-2},{"mir":"hsa-mir-150","col":11,"v":-4},{"mir":"hsa-mir-150","col":12,"v":-0.7},
{"mir":"hsa-mir-182","col":1,"v":4},{"mir":"hsa-mir-182","col":2,"v":4},{"mir":"hsa-mir-182","col":3,"v":3.8},{"mir":"hsa-mir-182","col":4,"v":4},{"mir":"hsa-mir-182","col":5,"v":2},{"mir":"hsa-mir-182","col":6,"v":-1.5},{"mir":"hsa-mir-182","col":7,"v":-1.7},{"mir":"hsa-mir-182","col":8,"v":-4},{"mir":"hsa-mir-182","col":9,"v":-4},{"mir":"hsa-mir-182","col":10,"v":-2.5},{"mir":"hsa-mir-182","col":11,"v":-4},{"mir":"hsa-mir-182","col":12,"v":-0.6},
{"mir":"hsa-mir-139","col":1,"v":4},{"mir":"hsa-mir-139","col":2,"v":4},{"mir":"hsa-mir-139","col":3,"v":3.7},{"mir":"hsa-mir-139","col":4,"v":4},{"mir":"hsa-mir-139","col":5,"v":0.7},{"mir":"hsa-mir-139","col":6,"v":-1.5},{"mir":"hsa-mir-139","col":7,"v":-1.7},{"mir":"hsa-mir-139","col":8,"v":-4},{"mir":"hsa-mir-139","col":9,"v":-4},{"mir":"hsa-mir-139","col":10,"v":-3},{"mir":"hsa-mir-139","col":11,"v":-4},{"mir":"hsa-mir-139","col":12,"v":-0.6},
{"mir":"hsa-mir-93","col":1,"v":4},{"mir":"hsa-mir-93","col":2,"v":4},{"mir":"hsa-mir-93","col":3,"v":3},{"mir":"hsa-mir-93","col":4,"v":4},{"mir":"hsa-mir-93","col":5,"v":3},{"mir":"hsa-mir-93","col":6,"v":-1.5},{"mir":"hsa-mir-93","col":7,"v":-1.2},{"mir":"hsa-mir-93","col":8,"v":-4},{"mir":"hsa-mir-93","col":9,"v":-4},{"mir":"hsa-mir-93","col":10,"v":-2.7},{"mir":"hsa-mir-93","col":11,"v":-4},{"mir":"hsa-mir-93","col":12,"v":-0.6},
{"mir":"hsa-mir-126*","col":1,"v":-1.4},{"mir":"hsa-mir-126*","col":2,"v":4},{"mir":"hsa-mir-126*","col":3,"v":4},{"mir":"hsa-mir-126*","col":4,"v":4},{"mir":"hsa-mir-126*","col":5,"v":1.5},{"mir":"hsa-mir-126*","col":6,"v":-1.6},{"mir":"hsa-mir-126*","col":7,"v":-1.7},{"mir":"hsa-mir-126*","col":8,"v":-4},{"mir":"hsa-mir-126*","col":9,"v":-4},{"mir":"hsa-mir-126*","col":10,"v":-2.7},{"mir":"hsa-mir-126*","col":11,"v":-4},{"mir":"hsa-mir-126*","col":12,"v":-0.6},
{"mir":"hsa-mir-320","col":1,"v":3.6},{"mir":"hsa-mir-320","col":2,"v":4},{"mir":"hsa-mir-320","col":3,"v":3.9},{"mir":"hsa-mir-320","col":4,"v":4},{"mir":"hsa-mir-320","col":5,"v":-3.3},{"mir":"hsa-mir-320","col":6,"v":-1.5},{"mir":"hsa-mir-320","col":7,"v":-1.8},{"mir":"hsa-mir-320","col":8,"v":-4},{"mir":"hsa-mir-320","col":9,"v":-4},{"mir":"hsa-mir-320","col":10,"v":-2.7},{"mir":"hsa-mir-320","col":11,"v":-4},{"mir":"hsa-mir-320","col":12,"v":-0.6},
{"mir":"hsa-mir-31","col":1,"v":-0.4},{"mir":"hsa-mir-31","col":2,"v":4},{"mir":"hsa-mir-31","col":3,"v":-0.8},{"mir":"hsa-mir-31","col":4,"v":3.9},{"mir":"hsa-mir-31","col":5,"v":-3},{"mir":"hsa-mir-31","col":6,"v":-0.5},{"mir":"hsa-mir-31","col":7,"v":-0.7},{"mir":"hsa-mir-31","col":8,"v":-3.6},{"mir":"hsa-mir-31","col":9,"v":-3.6},{"mir":"hsa-mir-31","col":10,"v":-1},{"mir":"hsa-mir-31","col":11,"v":-3.6},{"mir":"hsa-mir-31","col":12,"v":-0.2},
{"mir":"hsa-mir-99a","col":1,"v":-0.4},{"mir":"hsa-mir-99a","col":2,"v":4},{"mir":"hsa-mir-99a","col":3,"v":-0.7},{"mir":"hsa-mir-99a","col":4,"v":3.8},{"mir":"hsa-mir-99a","col":5,"v":-2.2},{"mir":"hsa-mir-99a","col":6,"v":-0.4},{"mir":"hsa-mir-99a","col":7,"v":-0.4},{"mir":"hsa-mir-99a","col":8,"v":-2.2},{"mir":"hsa-mir-99a","col":9,"v":-3.3},{"mir":"hsa-mir-99a","col":10,"v":-0.8},{"mir":"hsa-mir-99a","col":11,"v":-1.6},{"mir":"hsa-mir-99a","col":12,"v":-0.1}
],
"tree":[
{"x":22,"y":103,"x2":22,"y2":434,"k":"l"},{"x":22,"y":103,"x2":31,"y2":103,"k":"l"},{"x":22,"y":434,"x2":36,"y2":434,"k":"l"},
{"x":31,"y":59,"x2":31,"y2":148,"k":"l"},{"x":31,"y":59,"x2":44,"y2":59,"k":"d"},{"x":31,"y":148,"x2":40,"y2":148,"k":"l"},
{"x":44,"y":55,"x2":44,"y2":64,"k":"d"},{"x":44,"y":55,"x2":50,"y2":55,"k":"d"},{"x":44,"y":64,"x2":50,"y2":64,"k":"d"},
{"x":40,"y":81,"x2":40,"y2":200,"k":"l"},{"x":40,"y":81,"x2":47,"y2":81,"k":"d"},{"x":47,"y":74,"x2":47,"y2":112,"k":"l"},{"x":47,"y":100,"x2":51,"y2":100,"k":"d"},
{"x":40,"y":148,"x2":45,"y2":148,"k":"d"},{"x":45,"y":125,"x2":45,"y2":155,"k":"l"},{"x":45,"y":125,"x2":51,"y2":125,"k":"d"},{"x":45,"y":155,"x2":51,"y2":155,"k":"d"},
{"x":40,"y":165,"x2":44,"y2":165,"k":"l"},{"x":44,"y":165,"x2":44,"y2":212,"k":"l"},{"x":44,"y":172,"x2":51,"y2":172,"k":"d"},{"x":47,"y":187,"x2":47,"y2":215,"k":"l"},{"x":44,"y":200,"x2":47,"y2":200,"k":"l"},
{"x":36,"y":366,"x2":36,"y2":504,"k":"l"},{"x":36,"y":366,"x2":41,"y2":366,"k":"d"},{"x":36,"y":504,"x2":41,"y2":504,"k":"d"},
{"x":41,"y":273,"x2":41,"y2":366,"k":"l"},{"x":41,"y":273,"x2":47,"y2":273,"k":"d"},{"x":41,"y":355,"x2":47,"y2":355,"k":"d"},
{"x":47,"y":228,"x2":47,"y2":320,"k":"l"},{"x":47,"y":250,"x2":51,"y2":250,"k":"d"},{"x":47,"y":300,"x2":51,"y2":300,"k":"d"},
{"x":47,"y":335,"x2":47,"y2":398,"k":"l"},{"x":47,"y":340,"x2":51,"y2":340,"k":"d"},{"x":47,"y":375,"x2":51,"y2":375,"k":"d"},
{"x":41,"y":472,"x2":41,"y2":533,"k":"l"},{"x":41,"y":472,"x2":46,"y2":472,"k":"d"},{"x":41,"y":533,"x2":46,"y2":533,"k":"d"},
{"x":46,"y":410,"x2":46,"y2":500,"k":"l"},{"x":46,"y":440,"x2":51,"y2":440,"k":"d"},{"x":46,"y":490,"x2":51,"y2":490,"k":"d"},
{"x":46,"y":515,"x2":46,"y2":578,"k":"l"},{"x":46,"y":545,"x2":51,"y2":545,"k":"d"},{"x":46,"y":565,"x2":51,"y2":565,"k":"d"},
{"x":51.5,"y":52,"x2":51.5,"y2":592,"k":"d"}
],
"guides":[{"x":241,"y":52,"x2":241,"y2":592},{"x":395.5,"y":52,"x2":395.5,"y2":592},{"x":87,"y":221.3,"x2":660,"y2":221.3}],
"frame":[{"x":87,"y":51,"x2":662,"y2":594}],
"key":[{"x":428.3,"x2":485,"y":543,"y2":556,"level":"a"},{"x":485,"x2":514,"y":543,"y2":556,"level":"b"},{"x":514,"x2":542.7,"y":543,"y2":556,"level":"c"},{"x":542.7,"x2":571.7,"y":543,"y2":556,"level":"d"},{"x":571.7,"x2":600.3,"y":543,"y2":556,"level":"e"},{"x":600.3,"x2":630.5,"y":543,"y2":556,"level":"f"}],
"keybox":[{"x":428.3,"x2":630.5,"y":543,"y2":556}],
"edgesBig":[
{"x":466,"y":95,"x2":535,"y2":131,"k":"in"},{"x":480,"y":95,"x2":535,"y2":131,"k":"in"},{"x":494,"y":95,"x2":535,"y2":131,"k":"in"},{"x":508,"y":95,"x2":535,"y2":131,"k":"in"},{"x":523,"y":95,"x2":535,"y2":131,"k":"in"},{"x":537,"y":95,"x2":535,"y2":131,"k":"in"},{"x":551,"y":95,"x2":535,"y2":131,"k":"in"},{"x":565,"y":95,"x2":535,"y2":131,"k":"in"},{"x":579,"y":95,"x2":535,"y2":131,"k":"in"},{"x":593,"y":95,"x2":535,"y2":131,"k":"in"},{"x":608,"y":95,"x2":535,"y2":131,"k":"in"},
{"x":473,"y":86,"x2":535,"y2":131,"k":"in"},{"x":487,"y":86,"x2":535,"y2":131,"k":"in"},{"x":501,"y":86,"x2":535,"y2":131,"k":"in"},{"x":515,"y":86,"x2":535,"y2":131,"k":"in"},{"x":530,"y":86,"x2":535,"y2":131,"k":"in"},{"x":544,"y":86,"x2":535,"y2":131,"k":"in"},{"x":558,"y":86,"x2":535,"y2":131,"k":"in"},{"x":572,"y":86,"x2":535,"y2":131,"k":"in"},{"x":586,"y":86,"x2":535,"y2":131,"k":"in"},
{"x":535,"y":125,"x2":535,"y2":131,"k":"in","angle":180},
{"x":536,"y":148,"x2":471.7,"y2":176.7,"k":"out","angle":245.2},{"x":536,"y":148,"x2":486,"y2":176.7,"k":"out","angle":239.3},{"x":536,"y":148,"x2":499.3,"y2":176.7,"k":"out","angle":231},{"x":536,"y":148,"x2":512.3,"y2":176.7,"k":"out","angle":218.6},{"x":536,"y":148,"x2":524.3,"y2":176.7,"k":"out","angle":201.5},{"x":536,"y":148,"x2":537.3,"y2":176.7,"k":"out","angle":177.5},{"x":536,"y":148,"x2":550,"y2":176.7,"k":"out","angle":154.8},{"x":536,"y":148,"x2":561.7,"y2":176.7,"k":"out","angle":139.1},{"x":536,"y":148,"x2":575,"y2":176.7,"k":"out","angle":127.3},{"x":536,"y":148,"x2":590,"y2":176.7,"k":"out","angle":118.8},{"x":536,"y":148,"x2":604.3,"y2":176.7,"k":"out","angle":113.5},
{"x":534,"y":256,"x2":534,"y2":296,"k":"in","angle":180},
{"x":533.5,"y":312,"x2":458.3,"y2":349,"k":"out","angle":243.8},{"x":533.5,"y":312,"x2":475,"y2":349,"k":"out","angle":237.7},{"x":533.5,"y":312,"x2":489.3,"y2":349,"k":"out","angle":230.1},{"x":533.5,"y":312,"x2":505,"y2":349,"k":"out","angle":217.6},{"x":533.5,"y":312,"x2":520,"y2":349,"k":"out","angle":200},{"x":533.5,"y":312,"x2":534.7,"y2":349,"k":"out","angle":178},{"x":533.5,"y":312,"x2":549.3,"y2":349,"k":"out","angle":156.9},{"x":533.5,"y":312,"x2":563.3,"y2":349,"k":"out","angle":141.1},{"x":533.5,"y":312,"x2":578.3,"y2":349,"k":"out","angle":129.6},{"x":533.5,"y":312,"x2":594.3,"y2":349,"k":"out","angle":121.3},{"x":533.5,"y":312,"x2":613.3,"y2":349,"k":"out","angle":114.9},
{"x":487,"y":205,"x2":503,"y2":205,"k":"in","angle":90},{"x":487,"y":385.7,"x2":503,"y2":385.7,"k":"in","angle":90},{"x":583,"y":205,"x2":599,"y2":205,"k":"key","angle":90},{"x":583,"y":385.7,"x2":599,"y2":385.7,"k":"key","angle":90}
],
"edgesIcon":[
{"x":96,"y":30.7,"x2":102,"y2":30.7,"k":"in","angle":90},{"x":100,"y":41,"x2":105,"y2":33.5,"k":"out","angle":34},
{"x":128,"y":30.7,"x2":122,"y2":30.7,"k":"in","angle":270},{"x":126,"y":41,"x2":131,"y2":33.5,"k":"out","angle":34},
{"x":155,"y":30.7,"x2":149,"y2":30.7,"k":"in","angle":270},{"x":153,"y":41,"x2":158,"y2":33.5,"k":"out","angle":34},{"x":151,"y":41,"x2":146,"y2":33.5,"k":"out","angle":326},
{"x":174,"y":30.7,"x2":180,"y2":30.7,"k":"in","angle":90},{"x":178,"y":41,"x2":183,"y2":33.5,"k":"out","angle":34},
{"x":204,"y":41,"x2":209,"y2":33.5,"k":"out","angle":34},{"x":202,"y":41,"x2":197,"y2":33.5,"k":"out","angle":326},
{"x":225,"y":30.7,"x2":231,"y2":30.7,"k":"in","angle":90},{"x":229,"y":41,"x2":234,"y2":33.5,"k":"out","angle":34},{"x":227,"y":41,"x2":222,"y2":33.5,"k":"out","angle":326},
{"x":252,"y":30.7,"x2":258,"y2":30.7,"k":"in","angle":90},{"x":261,"y":33,"x2":256,"y2":40.5,"k":"in","angle":214},
{"x":283,"y":30.7,"x2":277,"y2":30.7,"k":"in","angle":270},{"x":286,"y":33,"x2":281,"y2":40.5,"k":"in","angle":214},
{"x":304,"y":30.7,"x2":310,"y2":30.7,"k":"in","angle":90},{"x":313,"y":33,"x2":308,"y2":40.5,"k":"in","angle":214},
{"x":330,"y":30.7,"x2":336,"y2":30.7,"k":"in","angle":90},{"x":339,"y":33,"x2":334,"y2":40.5,"k":"in","angle":214},{"x":327,"y":33,"x2":332,"y2":40.5,"k":"in","angle":146},
{"x":364,"y":33,"x2":359,"y2":40.5,"k":"in","angle":214},{"x":352,"y":33,"x2":357,"y2":40.5,"k":"in","angle":146},
{"x":382,"y":30.7,"x2":388,"y2":30.7,"k":"in","angle":90},{"x":391,"y":33,"x2":386,"y2":40.5,"k":"in","angle":214},{"x":379,"y":33,"x2":384,"y2":40.5,"k":"in","angle":146}
],
"nodesA":[
{"x":523,"y":77},{"x":537,"y":77},{"x":551,"y":77},
{"x":466,"y":86},{"x":480,"y":86},{"x":494,"y":86},{"x":508,"y":86},{"x":523,"y":86},{"x":537,"y":86},{"x":551,"y":86},{"x":565,"y":86},{"x":579,"y":86},{"x":593,"y":86},{"x":608,"y":86},
{"x":466,"y":95},{"x":480,"y":95},{"x":494,"y":95},{"x":508,"y":95},{"x":523,"y":95},{"x":537,"y":95},{"x":551,"y":95},{"x":565,"y":95},{"x":579,"y":95},{"x":593,"y":95},{"x":608,"y":95},
{"x":467.7,"y":185},{"x":482,"y":185},{"x":496.7,"y":185},{"x":510.7,"y":185},{"x":525,"y":185},{"x":539.3,"y":185},{"x":553.3,"y":185},{"x":567.7,"y":185},{"x":582,"y":185},{"x":595.7,"y":185},{"x":610,"y":185},
{"x":480.3,"y":205},{"x":607.5,"y":205},{"x":480,"y":385.7},{"x":607.3,"y":385.7}
],
"nodesB":[
{"x":534.7,"y":252.7},{"x":454,"y":356.3},{"x":470.7,"y":356.3},{"x":487,"y":356.3},{"x":503.7,"y":356.3},{"x":520.3,"y":356.3},{"x":537,"y":356.3},{"x":553.3,"y":356.3},{"x":570,"y":356.3},{"x":586,"y":356.3},{"x":602.3,"y":356.3},{"x":619,"y":356.3}
],
"nodesIcon":[
{"x":93,"y":30.7},{"x":105,"y":30.7},{"x":119,"y":30.7},{"x":131,"y":30.7},{"x":146,"y":30.7},{"x":158,"y":30.7},{"x":171,"y":30.7},{"x":183,"y":30.7},{"x":196,"y":30.7},{"x":210,"y":30.7},{"x":222,"y":30.7},{"x":234,"y":30.7},{"x":249,"y":30.7},{"x":261,"y":30.7},{"x":274,"y":30.7},{"x":286,"y":30.7},{"x":301,"y":30.7},{"x":313,"y":30.7},{"x":327,"y":30.7},{"x":339,"y":30.7},{"x":352,"y":30.7},{"x":364,"y":30.7},{"x":379,"y":30.7},{"x":391,"y":30.7}
],
"triBig":[{"x":536,"y":143},{"x":422,"y":205},{"x":512.7,"y":205},{"x":576.7,"y":205},{"x":533.3,"y":306.7},{"x":422,"y":385.7},{"x":512.7,"y":385.7},{"x":576.7,"y":385.7}],
"triIcon":[{"x":99,"y":43},{"x":125,"y":43},{"x":152,"y":43},{"x":177,"y":43},{"x":203,"y":43},{"x":228,"y":43},{"x":255,"y":43},{"x":280,"y":43},{"x":307,"y":43},{"x":333,"y":43},{"x":358,"y":43},{"x":385,"y":43}],
"heads":[{"t":"network subgraphs","x":244,"y":9},{"t":"class descriptions","x":528,"y":29}],
"classes":[{"t":"Class I","x":417,"y":65},{"t":"Class II","x":415,"y":241}],
"counts":[{"t":"26","x":434,"y":205},{"t":"23","x":524,"y":205},{"t":"10.8","x":617.7,"y":205},{"t":"57","x":431.7,"y":385},{"t":"0.8","x":524,"y":385},{"t":"12.3","x":617.7,"y":385}],
"keyTitle":[{"t":"occurrence of network subgraphs","x":529.5,"y":532}],
"keyEnds":[{"t":"under-represented","x":426,"y":564},{"t":"over-represented","x":558,"y":567}],
"side":[{"t":"microRNAs","x":9,"y":251}]
},
"resolve":{"scale":{"x":"independent","y":"independent","color":"independent"}},
"layer":[
{"data":{"name":"tree"},"mark":{"type":"rule","strokeWidth":1},"encoding":{"x":{"field":"x","type":"quantitative","scale":{"domain":[0,664],"range":[0,664]},"axis":null},"x2":{"field":"x2"},"y":{"field":"y","type":"quantitative","scale":{"domain":[0,596],"range":[0,596]},"axis":null},"y2":{"field":"y2"},"color":{"field":"k","type":"nominal","scale":{"domain":["l","d"],"range":["#b5b5b5","#222222"]},"legend":null}}},
{"data":{"name":"cells"},"mark":{"type":"rect"},"encoding":{"x":{"field":"col","type":"ordinal","scale":{"range":[87,395.5],"padding":0},"axis":null},"y":{"field":"mir","type":"nominal","sort":null,"scale":{"range":[52,592.3],"padding":0},"axis":{"title":null,"orient":"left","offset":-85,"ticks":false,"domain":false,"labelPadding":0,"labelOverlap":false,"labelFontSize":5.4,"labelFont":"Roboto","labelFontWeight":"bold","labelColor":"#222222","labelBound":false,"grid":false}},"color":{"field":"v","type":"quantitative","scale":{"type":"linear","domain":[-4,-3,-2,-1,0,1,2,3,4],"range":["#e0e233","#f0e82e","#f4ee85","#f8f5bd","#ffffff","#d3ddf0","#a5b6de","#6f86c4","#3b60ac"]},"legend":null}}},
{"data":{"name":"guides"},"mark":{"type":"rule","strokeWidth":1.5,"color":"#808080"},"encoding":{"x":{"field":"x","type":"quantitative","scale":{"domain":[0,664],"range":[0,664]},"axis":null},"x2":{"field":"x2"},"y":{"field":"y","type":"quantitative","scale":{"domain":[0,596],"range":[0,596]},"axis":null},"y2":{"field":"y2"}}},
{"data":{"name":"frame"},"mark":{"type":"rect","fillOpacity":0,"stroke":"#000000","strokeWidth":3},"encoding":{"x":{"field":"x","type":"quantitative","scale":{"domain":[0,664],"range":[0,664]},"axis":null},"x2":{"field":"x2"},"y":{"field":"y","type":"quantitative","scale":{"domain":[0,596],"range":[0,596]},"axis":null},"y2":{"field":"y2"}}},
{"data":{"name":"key"},"mark":{"type":"rect"},"encoding":{"x":{"field":"x","type":"quantitative","scale":{"domain":[0,664],"range":[0,664]},"axis":null},"x2":{"field":"x2"},"y":{"field":"y","type":"quantitative","scale":{"domain":[0,596],"range":[0,596]},"axis":null},"y2":{"field":"y2"},"color":{"field":"level","type":"nominal","scale":{"domain":["a","b","c","d","e","f"],"range":["#dfe33a","#d7e699","#ffffff","#a9b4dc","#70bce8","#3b60ac"]},"legend":null}}},
{"data":{"name":"keybox"},"mark":{"type":"rect","fillOpacity":0,"stroke":"#111111","strokeWidth":1},"encoding":{"x":{"field":"x","type":"quantitative","scale":{"domain":[0,664],"range":[0,664]},"axis":null},"x2":{"field":"x2"},"y":{"field":"y","type":"quantitative","scale":{"domain":[0,596],"range":[0,596]},"axis":null},"y2":{"field":"y2"}}},
{"data":{"name":"edgesBig"},"mark":{"type":"rule","strokeWidth":1.4},"encoding":{"x":{"field":"x","type":"quantitative","scale":{"domain":[0,664],"range":[0,664]},"axis":null},"x2":{"field":"x2"},"y":{"field":"y","type":"quantitative","scale":{"domain":[0,596],"range":[0,596]},"axis":null},"y2":{"field":"y2"},"color":{"field":"k","type":"nominal","scale":{"domain":["in","out","key"],"range":["#4a55b0","#e83e8c","#ee6b6b"]},"legend":null}}},
{"data":{"name":"edgesBig"},"transform":[{"filter":"isValid(datum.angle)"}],"mark":{"type":"point","shape":"triangle-up","filled":true,"size":30,"opacity":1},"encoding":{"x":{"field":"x2","type":"quantitative","scale":{"domain":[0,664],"range":[0,664]},"axis":null},"y":{"field":"y2","type":"quantitative","scale":{"domain":[0,596],"range":[0,596]},"axis":null},"angle":{"field":"angle","type":"quantitative","scale":{"domain":[0,360],"range":[0,360]}},"color":{"field":"k","type":"nominal","scale":{"domain":["in","out","key"],"range":["#4a55b0","#e83e8c","#ee6b6b"]},"legend":null}}},
{"data":{"name":"nodesIcon"},"mark":{"type":"rect","width":9,"height":4,"fill":"#5cb85c"},"encoding":{"x":{"field":"x","type":"quantitative","scale":{"domain":[0,664],"range":[0,664]},"axis":null},"y":{"field":"y","type":"quantitative","scale":{"domain":[0,596],"range":[0,596]},"axis":null}}},
{"data":{"name":"edgesIcon"},"mark":{"type":"rule","strokeWidth":1.2},"encoding":{"x":{"field":"x","type":"quantitative","scale":{"domain":[0,664],"range":[0,664]},"axis":null},"x2":{"field":"x2"},"y":{"field":"y","type":"quantitative","scale":{"domain":[0,596],"range":[0,596]},"axis":null},"y2":{"field":"y2"},"color":{"field":"k","type":"nominal","scale":{"domain":["in","out"],"range":["#4a55b0","#e83e8c"]},"legend":null}}},
{"data":{"name":"nodesA"},"mark":{"type":"rect","width":12.5,"height":5.5,"fill":"#4fae4f","stroke":"#a9d6a9","strokeWidth":0.5},"encoding":{"x":{"field":"x","type":"quantitative","scale":{"domain":[0,664],"range":[0,664]},"axis":null},"y":{"field":"y","type":"quantitative","scale":{"domain":[0,596],"range":[0,596]},"axis":null}}},
{"data":{"name":"nodesB"},"mark":{"type":"rect","width":14.5,"height":6.5,"fill":"#4fae4f","stroke":"#a9d6a9","strokeWidth":0.5},"encoding":{"x":{"field":"x","type":"quantitative","scale":{"domain":[0,664],"range":[0,664]},"axis":null},"y":{"field":"y","type":"quantitative","scale":{"domain":[0,596],"range":[0,596]},"axis":null}}},
{"data":{"name":"edgesIcon"},"mark":{"type":"point","shape":"triangle-up","filled":true,"size":9,"opacity":1},"encoding":{"x":{"field":"x2","type":"quantitative","scale":{"domain":[0,664],"range":[0,664]},"axis":null},"y":{"field":"y2","type":"quantitative","scale":{"domain":[0,596],"range":[0,596]},"axis":null},"angle":{"field":"angle","type":"quantitative","scale":{"domain":[0,360],"range":[0,360]}},"color":{"field":"k","type":"nominal","scale":{"domain":["in","out"],"range":["#4a55b0","#e83e8c"]},"legend":null}}},
{"data":{"name":"triBig"},"mark":{"type":"point","shape":"triangle-up","filled":true,"size":125,"opacity":1,"fill":"#e9e24e","stroke":"#a8a8a0","strokeWidth":0.8},"encoding":{"x":{"field":"x","type":"quantitative","scale":{"domain":[0,664],"range":[0,664]},"axis":null},"y":{"field":"y","type":"quantitative","scale":{"domain":[0,596],"range":[0,596]},"axis":null}}},
{"data":{"name":"triIcon"},"mark":{"type":"point","shape":"triangle-up","filled":true,"size":32,"opacity":1,"fill":"#e9e24e"},"encoding":{"x":{"field":"x","type":"quantitative","scale":{"domain":[0,664],"range":[0,664]},"axis":null},"y":{"field":"y","type":"quantitative","scale":{"domain":[0,596],"range":[0,596]},"axis":null}}},
{"data":{"name":"heads"},"mark":{"type":"text","font":"Lato","fontSize":15.6,"align":"center","baseline":"middle","color":"#111111"},"encoding":{"text":{"field":"t"},"x":{"field":"x","type":"quantitative","scale":{"domain":[0,664],"range":[0,664]},"axis":null},"y":{"field":"y","type":"quantitative","scale":{"domain":[0,596],"range":[0,596]},"axis":null}}},
{"data":{"name":"classes"},"mark":{"type":"text","font":"Lato","fontSize":14,"align":"left","baseline":"middle","color":"#111111"},"encoding":{"text":{"field":"t"},"x":{"field":"x","type":"quantitative","scale":{"domain":[0,664],"range":[0,664]},"axis":null},"y":{"field":"y","type":"quantitative","scale":{"domain":[0,596],"range":[0,596]},"axis":null}}},
{"data":{"name":"counts"},"mark":{"type":"text","font":"Lato","fontSize":15.5,"align":"left","baseline":"middle","color":"#111111"},"encoding":{"text":{"field":"t"},"x":{"field":"x","type":"quantitative","scale":{"domain":[0,664],"range":[0,664]},"axis":null},"y":{"field":"y","type":"quantitative","scale":{"domain":[0,596],"range":[0,596]},"axis":null}}},
{"data":{"name":"keyTitle"},"mark":{"type":"text","font":"Lato","fontSize":14.4,"align":"center","baseline":"middle","color":"#111111"},"encoding":{"text":{"field":"t"},"x":{"field":"x","type":"quantitative","scale":{"domain":[0,664],"range":[0,664]},"axis":null},"y":{"field":"y","type":"quantitative","scale":{"domain":[0,596],"range":[0,596]},"axis":null}}},
{"data":{"name":"keyEnds"},"mark":{"type":"text","font":"Roboto","fontWeight":"bold","fontSize":9,"align":"left","baseline":"middle","color":"#222222"},"encoding":{"text":{"field":"t"},"x":{"field":"x","type":"quantitative","scale":{"domain":[0,664],"range":[0,664]},"axis":null},"y":{"field":"y","type":"quantitative","scale":{"domain":[0,596],"range":[0,596]},"axis":null}}},
{"data":{"name":"side"},"mark":{"type":"text","font":"Lato","fontSize":14,"angle":270,"align":"center","baseline":"middle","color":"#111111"},"encoding":{"text":{"field":"t"},"x":{"field":"x","type":"quantitative","scale":{"domain":[0,664],"range":[0,664]},"axis":null},"y":{"field":"y","type":"quantitative","scale":{"domain":[0,596],"range":[0,596]},"axis":null}}}
]}
